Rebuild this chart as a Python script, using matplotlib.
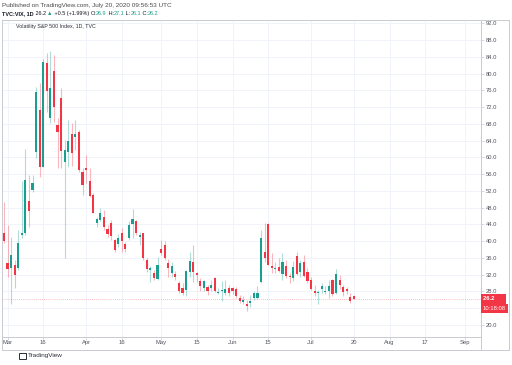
import numpy as np
import pandas as pd
import matplotlib
matplotlib.use('Agg')
import matplotlib.pyplot as plt
import matplotlib.transforms as mtransforms
from matplotlib.patches import Rectangle
from matplotlib.lines import Line2D

plt.rcParams['font.family'] = ['Liberation Sans', 'DejaVu Sans']

# daily VIX candles, Feb 28 .. Jul 20 2020
opens = [41.9, 34.7, 33.5, 34.3, 33.5, 41.4, 41.9, 49.6, 52.2, 61.4,
         71.3, 57.8, 82.6, 69.3, 80.7, 67.7, 74.1, 58.8, 61.4, 65.5,
         64.9, 66.1, 56.6, 57.4, 54.4, 51.0, 44.3, 45.1, 45.8, 43.0,
         44.4, 40.3, 39.3, 41.9, 39.3, 40.7, 44.1, 44.7, 41.1, 41.9,
         35.5, 33.1, 32.5, 31.0, 38.1, 39.0, 34.9, 32.5, 32.1, 30.0,
         28.8, 28.4, 32.7, 35.0, 32.3, 30.5, 28.8, 29.1, 28.8, 31.3,
         27.7, 28.0, 27.6, 28.9, 28.8, 28.6, 26.5, 25.6, 25.0, 25.2,
         26.4, 26.5, 30.3, 37.4, 44.0, 34.1, 33.3, 33.8, 32.2, 34.0,
         31.8, 31.2, 36.5, 32.7, 35.0, 32.7, 30.7, 28.1, 27.6, 28.6,
         27.9, 28.1, 30.7, 27.6, 30.7, 29.1, 28.6, 26.7, 26.9]
highs = [49.4, 43.9, 41.1, 35.6, 42.7, 54.4, 62.1, 55.8, 55.8, 76.9,
         77.7, 83.6, 85.0, 85.5, 84.4, 69.5, 76.5, 64.2, 68.9, 68.1,
         68.9, 66.5, 57.4, 60.6, 57.4, 51.4, 45.8, 47.8, 47.4, 43.9,
         45.1, 40.6, 41.6, 43.1, 39.9, 44.7, 47.6, 45.1, 42.3, 42.0,
         36.0, 34.0, 33.1, 36.2, 40.3, 40.1, 35.8, 35.1, 33.0, 30.5,
         30.0, 33.2, 37.5, 39.1, 32.7, 31.2, 30.7, 29.5, 30.7, 31.5,
         28.8, 30.5, 30.7, 29.5, 29.0, 29.0, 27.2, 27.0, 26.0, 27.2,
         28.0, 29.3, 42.7, 44.3, 44.4, 37.2, 35.1, 36.0, 37.2, 35.5,
         32.4, 35.3, 37.3, 35.5, 36.7, 33.5, 31.5, 29.6, 28.4, 30.0,
         29.3, 30.7, 31.0, 33.4, 32.0, 29.6, 29.0, 27.6, 27.1]
lows = [39.5, 31.5, 25.0, 28.8, 33.1, 40.8, 41.5, 43.5, 51.8, 59.8,
        55.4, 57.8, 70.9, 68.1, 68.5, 57.4, 57.4, 35.9, 57.8, 58.0,
        61.8, 56.6, 51.0, 53.8, 50.6, 46.7, 43.5, 44.7, 42.7, 41.1,
        40.3, 37.5, 38.6, 37.5, 37.5, 40.3, 40.7, 41.5, 39.0, 35.5,
        32.7, 30.3, 30.7, 30.7, 36.7, 35.5, 31.5, 31.5, 30.7, 27.7,
        27.2, 27.0, 31.5, 30.3, 30.3, 28.0, 28.0, 27.2, 28.0, 27.9,
        27.5, 25.8, 27.2, 26.8, 27.4, 26.5, 25.2, 25.0, 23.4, 24.4,
        25.9, 26.2, 29.9, 35.0, 34.3, 32.4, 32.4, 32.7, 30.7, 31.2,
        30.1, 30.5, 32.0, 31.5, 31.4, 30.0, 28.3, 27.0, 25.0, 27.7,
        27.3, 26.5, 27.0, 27.4, 28.6, 27.0, 27.3, 25.2, 26.1]
closes = [40.1, 33.4, 36.8, 32.0, 39.6, 42.0, 54.5, 47.3, 53.9, 75.5,
          57.8, 82.7, 75.9, 76.5, 72.0, 66.0, 61.6, 61.7, 63.9, 61.0,
          65.5, 57.1, 53.5, 57.1, 50.9, 46.8, 45.2, 46.7, 43.4, 41.7,
          41.2, 37.8, 40.8, 40.1, 38.2, 43.8, 45.4, 42.0, 41.4, 35.9,
          33.3, 33.6, 31.2, 34.2, 37.2, 36.0, 33.6, 34.1, 31.4, 28.0,
          27.6, 33.0, 35.3, 32.6, 31.9, 29.3, 30.5, 28.0, 29.5, 28.2,
          27.9, 28.05, 28.6, 27.6, 28.2, 26.8, 25.7, 25.8, 24.5, 25.8,
          27.6, 27.6, 40.8, 36.1, 34.4, 33.7, 33.5, 32.9, 35.1, 31.8,
          31.4, 33.8, 32.2, 34.7, 31.8, 30.4, 28.6, 27.7, 27.9, 29.4,
          28.1, 29.3, 27.3, 32.2, 29.5, 27.8, 28.0, 25.7, 26.2]

holidays = ['2020-04-10', '2020-05-25', '2020-07-03', '2020-09-07']
days = pd.bdate_range('2020-02-28', '2020-09-30')
days = days[~days.isin(pd.to_datetime(holidays))]

tick_dates = ['2020-03-02', '2020-03-16', '2020-04-01', '2020-04-16', '2020-05-01',
              '2020-05-15', '2020-06-01', '2020-06-15', '2020-07-01', '2020-07-20',
              '2020-08-03', '2020-08-17', '2020-09-01']
tick_labels = ['Mar', '16', 'Apr', '16', 'May', '15', 'Jun', '15', 'Jul', '20',
               'Aug', '17', 'Sep']
price_ticks = np.arange(20, 93, 4)

up = '#1a9e8f'
down = '#f23645'
frame = '#c9cbd1'
txt = '#50535e'

W, H = 512, 365
fig = plt.figure(figsize=(W / 100, H / 100), dpi=100)
fig.patch.set_facecolor('white')

def fx(px):
    return px / W

def fy(py):
    return 1 - py / H

ax = fig.add_axes([fx(2), fy(336.7), fx(481) - fx(2), fy(20) - fy(336.7)])

o = np.array(opens)
hi = np.array(highs)
lo = np.array(lows)
c = np.array(closes)
x = np.arange(len(c))
cols = np.where(c >= o, up, down)

ax.vlines(x, lo, hi, colors=cols, lw=0.8, alpha=0.35, zorder=2)
body_low = np.minimum(o, c)
body_h = np.maximum(np.abs(c - o), 0.25)
ax.bar(x, body_h, bottom=body_low, width=0.6, color=cols, lw=0, zorder=3)

# grid
tick_pos = [days.get_loc(pd.Timestamp(d)) for d in tick_dates]
for t in tick_pos:
    ax.axvline(t, color='#f0f3fa', lw=0.7, zorder=0)
for p in price_ticks:
    ax.axhline(p, color='#f0f3fa', lw=0.7, zorder=0)

# last price line
last = closes[-1]
ax.axhline(last, color=down, lw=0.6, ls=(0, (1, 1.5)), alpha=0.45, zorder=1)

ax.set_xlim(-0.56, 133.6)
ax.set_ylim(17.2, 92.79)

ax.set_xticks(tick_pos)
ax.set_xticklabels(tick_labels)
ax.set_yticks(price_ticks)
# 24.0 sits under the countdown box
ax.set_yticklabels(['' if p == 24 else '%.1f' % p for p in price_ticks])
ax.yaxis.tick_right()
ax.tick_params(axis='y', labelsize=4.2, colors=frame, labelcolor=txt, length=2.2, width=0.5, pad=1.2)
ax.tick_params(axis='x', labelsize=4.2, colors=frame, labelcolor=txt, length=2.0, width=0.5, pad=0.6)
for s in ax.spines.values():
    s.set_color(frame)
    s.set_linewidth(0.7)

trans = mtransforms.blended_transform_factory(ax.transAxes, ax.transData)
ax.text(1.004, last, '26.2      ', transform=trans, fontsize=4.2, color='white',
        va='center', ha='left', fontweight='bold', zorder=10, clip_on=False,
        bbox=dict(boxstyle='square,pad=0.35', fc=down, ec='none'))
ax.annotate('10:18:08', xy=(1.004, last), xycoords=trans, xytext=(0, -6.6),
            textcoords='offset points', fontsize=4.2, color='white', va='center',
            ha='left', zorder=10, annotation_clip=False,
            bbox=dict(boxstyle='square,pad=0.35', fc=down, ec='none'))

# outer frame of price / time scales
fig.add_artist(Line2D([fx(481), fx(509)], [fy(20), fy(20)], color=frame, lw=0.7))
fig.add_artist(Line2D([fx(509), fx(509)], [fy(20), fy(350)], color=frame, lw=0.7))
fig.add_artist(Line2D([fx(2), fx(509)], [fy(350), fy(350)], color=frame, lw=0.7))
fig.add_artist(Line2D([fx(2), fx(2)], [fy(336.7), fy(350)], color=frame, lw=0.7))
fig.add_artist(Line2D([fx(481), fx(481)], [fy(336.7), fy(350)], color=frame, lw=0.7))

# header
fig.text(fx(2), fy(5), 'Published on TradingView.com, July 20, 2020 09:56:53 UTC',
         fontsize=4.6, color='#4a4a4a', va='center', ha='left')

renderer = fig.canvas.get_renderer()
pieces = [('TVC:VIX, 1D', '#131722', 'bold'), (' 26.2 ', '#131722', 'normal'),
          ('▲', up, 'normal'), (' +0.5 (+1.99%) ', '#131722', 'normal'),
          ('O:', '#131722', 'normal'), ('26.9', up, 'normal'),
          (' H:', '#131722', 'normal'), ('27.1', up, 'normal'),
          (' L:', '#131722', 'normal'), ('26.1', up, 'normal'),
          (' C:', '#131722', 'normal'), ('26.2', up, 'normal')]
xpos = 2
for s, col, wt in pieces:
    t = fig.text(fx(xpos), fy(13.3), s, fontsize=4.0, color=col, fontweight=wt,
                 va='center', ha='left')
    bb = t.get_window_extent(renderer)
    xpos += bb.width

fig.text(fx(16), fy(26.5), 'Volatility S&P 500 Index, 1D, TVC', fontsize=3.8,
         color='#2a2e39', va='center', ha='left')

# logo
fig.add_artist(Rectangle((fx(19), fy(359)), fx(7), fy(353) - fy(359), fc='none',
                         ec='#2a2e39', lw=0.7))
fig.text(fx(28), fy(356), 'TradingView', fontsize=4.6, color='#2a2e39',
         va='center', ha='left')

fig.savefig('out.png', dpi=100)
